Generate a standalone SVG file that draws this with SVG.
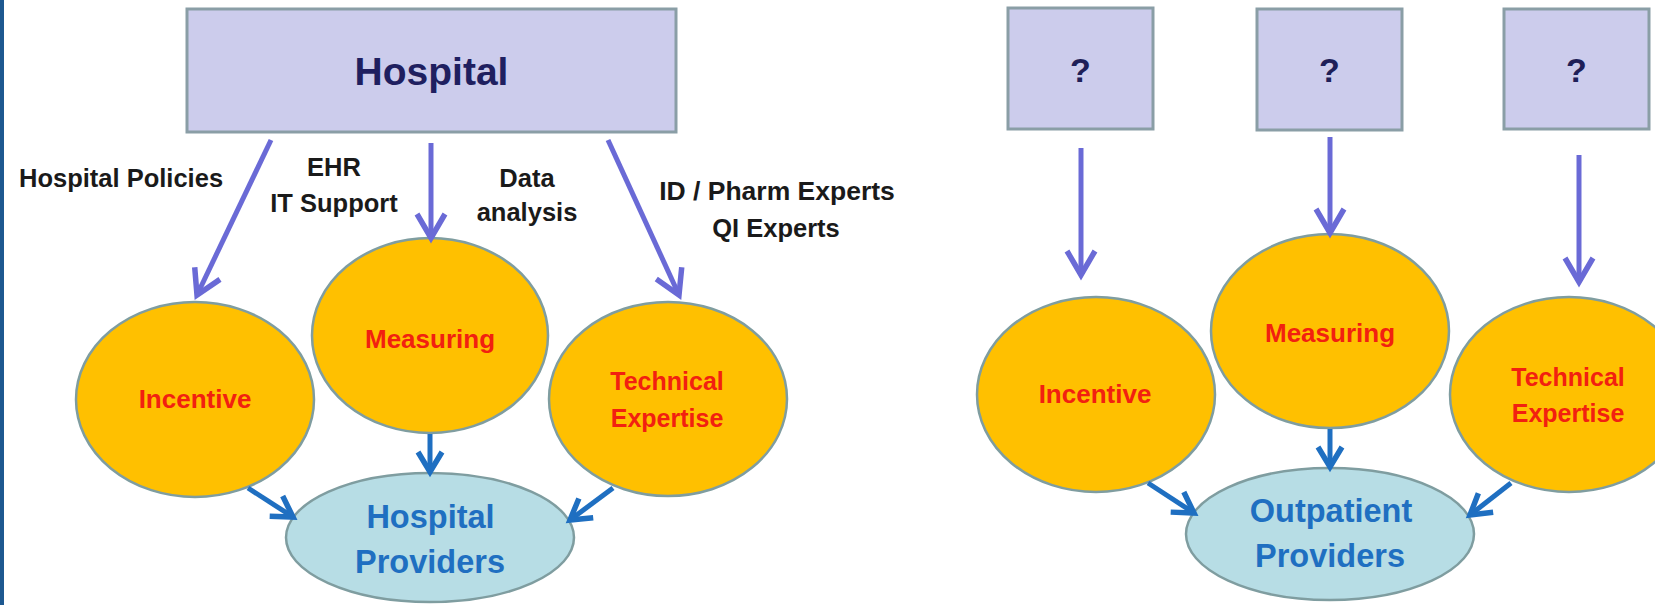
<svg xmlns="http://www.w3.org/2000/svg" width="1655" height="605" viewBox="0 0 1655 605">
<style>
.box{fill:#ccccec;stroke:#8a9ea6;stroke-width:3}
.oval{fill:#ffc000;stroke:#7f9da0;stroke-width:2.5}
.prov{fill:#b7dde5;stroke:#7f9da0;stroke-width:2.5}
.t{font-family:"Liberation Sans",Arial,sans-serif;font-weight:bold;text-anchor:middle}
.title{font-size:39px;fill:#1f1f60}
.q{font-size:34px;fill:#1f1f58}
.red{font-size:26px;fill:#f22010}
.red2{font-size:25px;fill:#f22010}
.blue{font-size:32.5px;fill:#1f6fc1}
.lbl{font-size:25.5px;fill:#1a1a1a}
.pa{stroke:#6a6ad6;stroke-width:5;fill:none}
.ba{stroke:#1f6fc1;stroke-width:5;fill:none}
</style>
<defs>
<marker id="hp" markerUnits="userSpaceOnUse" markerWidth="40" markerHeight="40" viewBox="-30 -20 40 40" refX="0" refY="0" orient="auto" overflow="visible">
<path d="M-24,-14 L0,0 L-24,14" fill="none" stroke="#6a6ad6" stroke-width="5.5"/>
</marker>
<marker id="hb" markerUnits="userSpaceOnUse" markerWidth="40" markerHeight="40" viewBox="-30 -20 40 40" refX="0" refY="0" orient="auto" overflow="visible">
<path d="M-20,-12 L0,0 L-20,12" fill="none" stroke="#1f6fc1" stroke-width="5.5"/>
</marker>
</defs>
<rect x="0" y="0" width="1655" height="605" fill="#ffffff"/>
<rect x="0" y="0" width="4" height="605" fill="#1d5890"/>

<g id="hospital">
<rect class="box" x="187" y="9" width="489" height="123"/>
<text class="t title" x="431.5" y="85">Hospital</text>
</g>
<g id="q1"><rect class="box" x="1008" y="8" width="145" height="121"/><text class="t q" x="1080.5" y="82">?</text></g>
<g id="q2"><rect class="box" x="1257" y="9" width="145" height="121"/><text class="t q" x="1329.5" y="82">?</text></g>
<g id="q3"><rect class="box" x="1504" y="9" width="145" height="120"/><text class="t q" x="1576.5" y="82">?</text></g>

<g id="labels">
<text class="t lbl" x="19" y="187" style="text-anchor:start">Hospital Policies</text>
<text class="t lbl" x="334" y="176">EHR</text>
<text class="t lbl" x="334" y="212">IT Support</text>
<text class="t lbl" x="527" y="187">Data</text>
<text class="t lbl" x="527" y="221">analysis</text>
<text class="t lbl" x="777" y="200" style="font-size:26.5px">ID / Pharm Experts</text>
<text class="t lbl" x="776" y="237">QI Experts</text>
</g>

<g id="incentive-l"><ellipse class="oval" cx="195" cy="399.5" rx="119" ry="97.5"/><text class="t red" x="195" y="408">Incentive</text></g>
<g id="measuring-l"><ellipse class="oval" cx="430" cy="335.5" rx="118" ry="97.5"/><text class="t red" x="430" y="348">Measuring</text></g>
<g id="technical-l"><ellipse class="oval" cx="668" cy="399" rx="119" ry="97"/><text class="t red2" x="667" y="390">Technical</text><text class="t red2" x="667" y="427">Expertise</text></g>
<g id="providers-l"><ellipse class="prov" cx="430" cy="537.5" rx="144" ry="64.5"/><text class="t blue" x="430.5" y="528">Hospital</text><text class="t blue" x="430" y="573">Providers</text></g>

<g id="incentive-r"><ellipse class="oval" cx="1096" cy="394.5" rx="119" ry="97.5"/><text class="t red" x="1095" y="403">Incentive</text></g>
<g id="measuring-r"><ellipse class="oval" cx="1330" cy="331" rx="119" ry="97"/><text class="t red" x="1330" y="342">Measuring</text></g>
<g id="technical-r"><ellipse class="oval" cx="1569" cy="394.5" rx="119" ry="97.5"/><text class="t red2" x="1568" y="386">Technical</text><text class="t red2" x="1568" y="422">Expertise</text></g>
<g id="providers-r"><ellipse class="prov" cx="1330" cy="534" rx="144" ry="66"/><text class="t blue" x="1331" y="522">Outpatient</text><text class="t blue" x="1330" y="567">Providers</text></g>

<g id="connectors">
<line class="pa" x1="271" y1="140" x2="197" y2="295" marker-end="url(#hp)"/>
<line class="pa" x1="431" y1="143" x2="431" y2="238" marker-end="url(#hp)"/>
<line class="pa" x1="608" y1="140" x2="679" y2="295" marker-end="url(#hp)"/>
<line class="pa" x1="1081" y1="148" x2="1081" y2="275" marker-end="url(#hp)"/>
<line class="pa" x1="1330" y1="137" x2="1330" y2="233" marker-end="url(#hp)"/>
<line class="pa" x1="1579" y1="155" x2="1579" y2="282" marker-end="url(#hp)"/>
<line class="ba" x1="430" y1="434" x2="430" y2="472" marker-end="url(#hb)"/>
<line class="ba" x1="248" y1="488" x2="293" y2="517" marker-end="url(#hb)"/>
<line class="ba" x1="613" y1="488" x2="570" y2="520" marker-end="url(#hb)"/>
<line class="ba" x1="1330" y1="429" x2="1330" y2="467" marker-end="url(#hb)"/>
<line class="ba" x1="1148" y1="483" x2="1194" y2="513" marker-end="url(#hb)"/>
<line class="ba" x1="1511" y1="483" x2="1470" y2="515" marker-end="url(#hb)"/>
</g>
</svg>
